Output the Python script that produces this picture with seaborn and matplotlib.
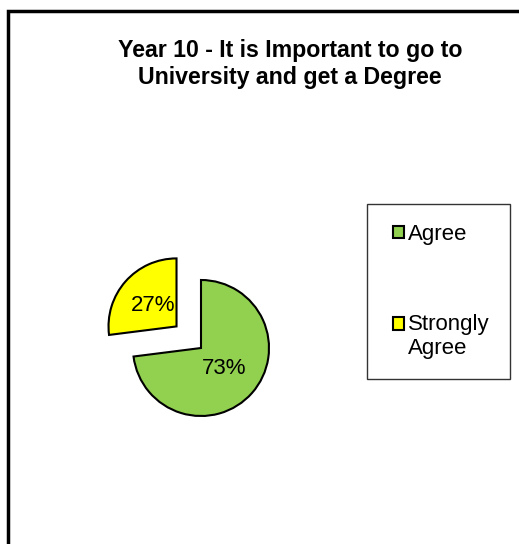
import seaborn as sns
import matplotlib.pyplot as plt
from matplotlib.patches import Rectangle
from matplotlib.legend_handler import HandlerPatch

# Data
categories = ['Agree', 'Strongly\nAgree']
shares = [73, 27]
slice_colors = ['#92D050', '#FFFF00']
title = 'Year 10 - It is Important to go to\nUniversity and get a Degree'

sns.set_theme(style="white")
plt.rcParams['font.family'] = ['Liberation Sans', 'DejaVu Sans']
plt.rcParams['text.color'] = 'black'

W, H = 519, 544
fig = plt.figure(figsize=(W / 100, H / 100), dpi=100)

# chart area border (Excel style, runs off the right and bottom edges)
fig.patches.append(Rectangle((8 / W, -0.2), 1.5, 1.2 - 11 / H,
                             transform=fig.transFigure, fill=False,
                             edgecolor='black', linewidth=2.5))

# pie axes: centre at (201, 348) px, radius ~68 px
cx, cy, r = 201, 348, 68
ax = fig.add_axes([(cx - 2 * r) / W, (H - cy - 2 * r) / H, 4 * r / W, 4 * r / H])
wedges, texts, autotexts = ax.pie(
    shares, colors=slice_colors, startangle=90, counterclock=False,
    explode=[0, 0.48], autopct='%1.0f%%', pctdistance=0.46,
    wedgeprops=dict(edgecolor='black', linewidth=1.5),
    textprops=dict(fontsize=16, color='black'))
ax.set_xlim(-2, 2)
ax.set_ylim(-2, 2)
ax.set_aspect('equal')
ax.axis('off')

fig.text(290 / W, 1 - 64 / H, title, ha='center', va='center',
         fontsize=16.7, fontweight='bold', linespacing=1.24)


# small square marker at the right of the handle box, next to the first text line
def square_marker(legend, orig_handle, xdescent, ydescent, width, height, fontsize):
    n_lines = categories[wedges.index(orig_handle)].count('\n') + 1
    shift = (n_lines - 1) * 0.6 * fontsize
    size = 0.5 * fontsize
    return Rectangle((-xdescent + width - size, -ydescent + shift), size, height)


leg = fig.legend(wedges, categories, loc='upper left',
                 bbox_to_anchor=(367 / W, 1 - 204 / H), borderaxespad=0,
                 fontsize=16, handlelength=0.75, handleheight=0.5,
                 handletextpad=0.2, borderpad=0.9, labelspacing=3.1,
                 fancybox=False, frameon=True,
                 handler_map={w: HandlerPatch(patch_func=square_marker) for w in wedges})
leg.get_frame().set_edgecolor('black')
leg.get_frame().set_linewidth(1.0)

fig.savefig('out.png', dpi=100, facecolor='white')
